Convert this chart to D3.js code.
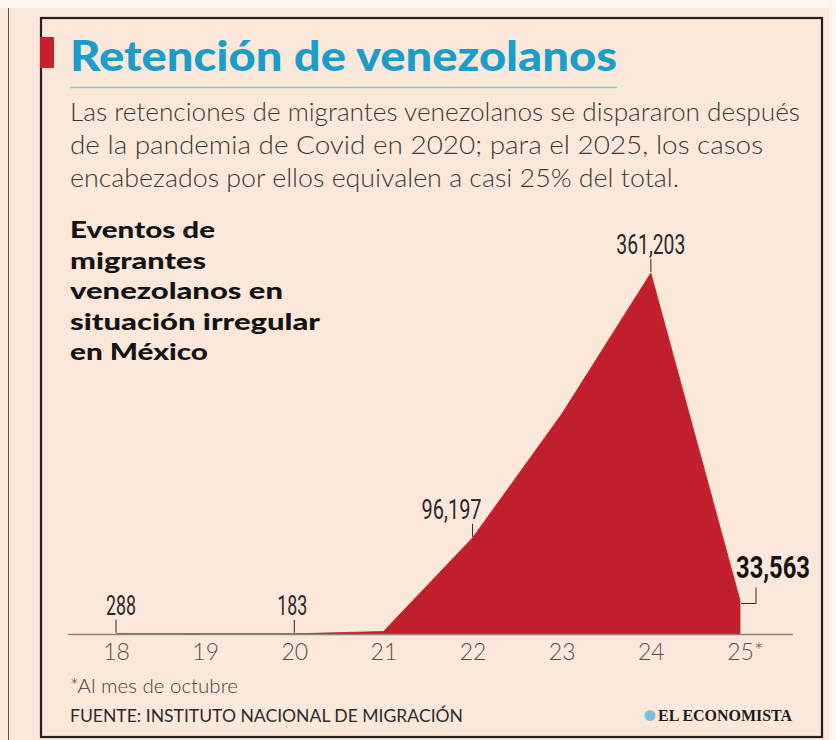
<!DOCTYPE html>
<html><head><meta charset="utf-8">
<script src="https://cdn.jsdelivr.net/npm/d3@7"></script>
<style>body{margin:0;background:#fbe8db;} svg{display:block;}</style>
</head><body>
<svg id="c" width="836" height="740"></svg>
<script>
// ---- data ----
const years = [2018, 2019, 2020, 2021, 2022, 2023, 2024, 2025];
const tickLabels = ["18", "19", "20", "21", "22", "23", "24", "25*"];
const values = [288, 300, 183, 2500, 96197, 220000, 361203, 33563];
const labeledYears = [2018, 2020, 2022, 2024, 2025];
const labelTexts = ["288", "183", "96,197", "361,203", "33,563"];
const title = "Retención de venezolanos";
const subtitle = [
  "Las retenciones de migrantes venezolanos se dispararon después",
  "de la pandemia de Covid en 2020; para el 2025, los casos",
  "encabezados por ellos equivalen a casi 25% del total."
];
const chartTitle = ["Eventos de", "migrantes", "venezolanos en", "situación irregular", "en México"];
const footnote = "*Al mes de octubre";
const source = "FUENTE: INSTITUTO NACIONAL DE MIGRACIÓN";
const brand = "EL ECONOMISTA";

// ---- layout ----
const svg = d3.select("#c");
const W = 836, H = 740;
const red = "#c11f2b";
const sans = "Lato, 'Open Sans', 'DejaVu Sans', sans-serif";
const narrow = "'Liberation Sans Narrow', 'Roboto', 'DejaVu Sans', sans-serif";

// background
svg.append("rect").attr("width", W).attr("height", H).attr("fill", "#fbe8db");
svg.append("rect").attr("width", W).attr("height", 8).attr("fill", "#fdf6f1");
svg.append("rect").attr("x", 829).attr("width", 7).attr("height", H).attr("fill", "#fdf3ec");
svg.append("line").attr("x1", 8.5).attr("x2", 8.5).attr("y1", 8).attr("y2", H)
  .attr("stroke", "#555").attr("stroke-width", 1);
svg.append("rect").attr("x", 41).attr("y", 18).attr("width", 781).attr("height", 719)
  .attr("fill", "none").attr("stroke", "#231f1c").attr("stroke-width", 2.2);
svg.append("rect").attr("x", 40).attr("y", 37).attr("width", 14).attr("height", 31).attr("fill", "#c8202b");

// title
svg.append("text").attr("x", 70).attr("y", 71).text(title)
  .attr("font-family", sans).attr("font-weight", 900).attr("font-size", 42)
  .attr("fill", "#1a9dc9").attr("textLength", 547).attr("lengthAdjust", "spacingAndGlyphs");
svg.append("line").attr("x1", 70).attr("x2", 617).attr("y1", 87.5).attr("y2", 87.5)
  .attr("stroke", "#8dc6c4").attr("stroke-width", 1.5);

const subW = [730, 693, 609];
svg.selectAll("text.sub").data(subtitle).join("text").attr("class", "sub")
  .attr("x", 70).attr("y", (d, i) => 121 + i * 33).text(d => d)
  .attr("font-family", sans).attr("font-weight", 300).attr("font-size", 25)
  .attr("fill", "#3b3838").attr("textLength", (d, i) => subW[i]).attr("lengthAdjust", "spacingAndGlyphs");

const ctW = [145, 136, 213, 250, 138];
svg.selectAll("text.ct").data(chartTitle).join("text").attr("class", "ct")
  .attr("x", 70).attr("y", (d, i) => 238 + i * 30.5).text(d => d)
  .attr("font-family", sans).attr("font-weight", 900).attr("font-size", 23)
  .attr("fill", "#151313").attr("textLength", (d, i) => ctW[i]).attr("lengthAdjust", "spacingAndGlyphs");

// scales
const x = d3.scalePoint().domain(years).range([116, 740]);
const y = d3.scaleLinear().domain([0, 361203]).range([634, 273]);

// area
const series = years.map((yr, i) => ({ year: yr, value: values[i] }));
const area = d3.area().x(d => x(d.year)).y0(y(0)).y1(d => y(d.value));
svg.append("path").datum(series).attr("d", area).attr("fill", red)
  .attr("stroke", red).attr("stroke-width", 0.8);

// axis
const axis = d3.axisBottom(x).tickSize(0).tickPadding(0).tickFormat((d, i) => tickLabels[i]);
const gAx = svg.append("g").attr("transform", `translate(0,${y(0)})`).call(axis);
gAx.select(".domain").remove();
svg.append("line").attr("x1", 68).attr("x2", 793).attr("y1", y(0) + 0.5).attr("y2", y(0) + 0.5)
  .attr("stroke", "#8c8580").attr("stroke-width", 1.5);
gAx.selectAll(".tick text").attr("dy", 0).attr("y", 26)
  .attr("font-family", sans).attr("font-weight", 300).attr("font-size", 23).attr("fill", "#56514f")
  .attr("text-anchor", "middle")
  .attr("dx", (d, i) => tickLabels[i].includes("*") ? 5 : 0);

// value labels
const labelLayout = {
  2018: { dx: 5, anchor: "middle" },
  2020: { dx: -2, anchor: "middle" },
  2022: { dx: -21, anchor: "middle" },
  2024: { dx: 0, anchor: "middle" },
  2025: { dx: -4, anchor: "start", bold: true }
};
const labW = { 2018: 30, 2020: 30, 2022: 60, 2024: 69, 2025: 74 };
labeledYears.forEach((yr, i) => {
  const v = values[years.indexOf(yr)];
  const px = x(yr), py = y(v);
  const L = labelLayout[yr];
  if (L.bold) {
    svg.append("path")
      .attr("d", d3.line()([[px + 1, py + 3], [px + 16, py + 3], [px + 16, py - 13]]))
      .attr("fill", "none").attr("stroke", "#2a2626").attr("stroke-width", 1);
    svg.append("text").attr("x", px + L.dx).attr("y", py - 22).text(labelTexts[i])
      .attr("font-family", narrow).attr("font-weight", 700).attr("font-size", 31)
      .attr("fill", "#141212").attr("text-anchor", "start")
      .attr("textLength", labW[yr]).attr("lengthAdjust", "spacingAndGlyphs");
  } else {
    const top = py - 14;
    svg.append("line").attr("x1", px).attr("x2", px).attr("y1", top).attr("y2", py - 1)
      .attr("stroke", "#2a2626").attr("stroke-width", 1);
    svg.append("text").attr("x", px + L.dx).attr("y", top - 5).text(labelTexts[i])
      .attr("font-family", narrow).attr("font-weight", 400).attr("font-size", 27)
      .attr("fill", "#2d2a29").attr("text-anchor", "middle")
      .attr("textLength", labW[yr]).attr("lengthAdjust", "spacingAndGlyphs");
  }
});

// footer
svg.append("text").attr("x", 70).attr("y", 693).text(footnote)
  .attr("font-family", sans).attr("font-weight", 300).attr("font-size", 19).attr("fill", "#454141")
  .attr("textLength", 168).attr("lengthAdjust", "spacingAndGlyphs");
svg.append("text").attr("x", 70).attr("y", 722).text(source)
  .attr("font-family", sans).attr("font-weight", 400).attr("font-size", 18).attr("fill", "#2f2b2a")
  .attr("textLength", 393).attr("lengthAdjust", "spacingAndGlyphs");
svg.append("circle").attr("cx", 650).attr("cy", 715.5).attr("r", 5.5).attr("fill", "#7dbde3");
svg.append("text").attr("x", 658).attr("y", 721).text(brand)
  .attr("font-family", "'Liberation Serif', 'DejaVu Serif', serif").attr("font-weight", 700)
  .attr("font-size", 16).attr("fill", "#1e1b1b")
  .attr("textLength", 134).attr("lengthAdjust", "spacingAndGlyphs");
</script>
</body></html>
